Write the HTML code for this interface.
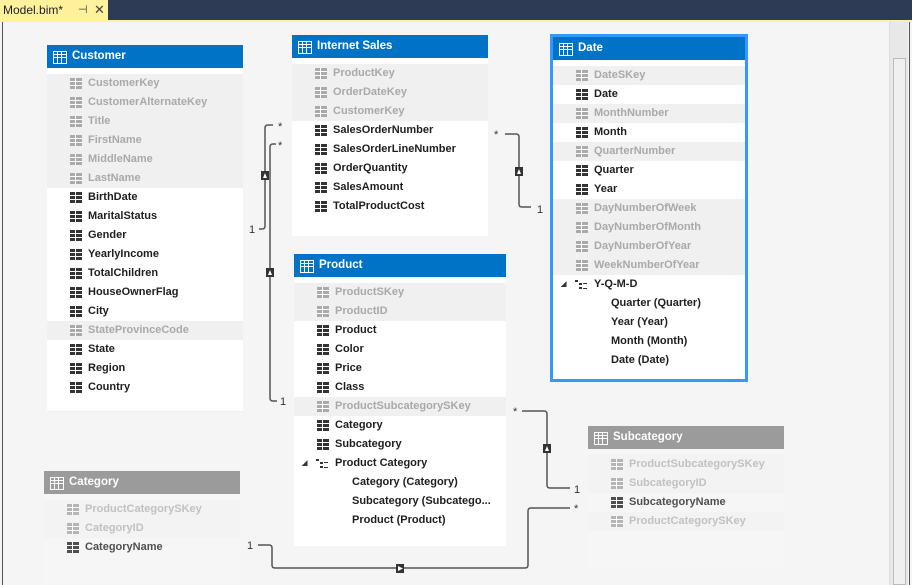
<!DOCTYPE html>
<html><head><meta charset="utf-8">
<style>
*{margin:0;padding:0;box-sizing:border-box}
body{width:912px;height:585px;overflow:hidden;background:#f5f5f5;font-family:"Liberation Sans",sans-serif;position:relative}
.top{position:absolute;left:0;top:0;width:912px;height:20px;background:#2d3b55}
.tab{position:absolute;left:0;top:0;width:108px;height:20px;background:#fff29d;font-size:12px;line-height:20px;padding-left:3px;color:#1e1e1e}
.tab span{position:absolute;font-size:11px;color:#444}
.ystrip{position:absolute;left:0;top:20px;width:912px;height:2px;background:#fff29d}
.lb{position:absolute;left:2px;top:22px;width:1px;height:563px;background:#555}
.sb{position:absolute;left:889px;top:22px;width:19px;height:563px;background:#e8e8e8;border-left:1px solid #ddd}
.thumb{position:absolute;left:893px;top:58px;width:13px;height:527px;background:#f0f0f0;border:1px solid #bbb}
.rb{position:absolute;left:909px;top:22px;width:1px;height:563px;background:#555}
.t{position:absolute;background:#f0f0f0}
.h{height:23px;background:#0073c6;color:#fff;font-weight:bold;font-size:11.5px;line-height:23px;padding-left:25px;position:relative}
.h.g{background:#8c8c8c}
.h::before{content:"";position:absolute;left:6px;top:6px;width:12px;height:11px;border:1px solid #fff;background:
linear-gradient(90deg,transparent 3px,#fff 3px,#fff 4px,transparent 4px,transparent 7px,#fff 7px,#fff 8px,transparent 8px),
linear-gradient(180deg,transparent 2px,#fff 2px,#fff 3px,transparent 3px,transparent 5px,#fff 5px,#fff 6px,transparent 6px)}
.gap{height:6px;background:#fff}
.r{height:19px;line-height:19px;font-size:11px;font-weight:bold;padding-left:41px;position:relative;color:#1e1e1e;background:#fff;white-space:nowrap}
.r.d{color:#a9a9a9;background:#f0f0f0}
.r::before{content:"";position:absolute;left:23px;top:4px;width:12px;height:11px;background:
linear-gradient(90deg,transparent 5px,#fff 5px,#fff 6px,transparent 6px),
linear-gradient(180deg,transparent 3px,#fff 3px,#fff 4px,transparent 4px,transparent 7px,#fff 7px,#fff 8px,transparent 8px),#333}
.r.d::before{background:linear-gradient(90deg,transparent 5px,#fff 5px,#fff 6px,transparent 6px),linear-gradient(180deg,transparent 3px,#fff 3px,#fff 4px,transparent 4px,transparent 7px,#fff 7px,#fff 8px,transparent 8px),#aaa}
.r.n::before{display:none}
.r.s{padding-left:58px}
.r.hi::before{width:11px;height:11px;background:none;border-left:none;content:"\25E2";font-size:7px;left:8px;top:0;color:#333}
.r.hi::after{content:"";position:absolute;left:22px;top:5px;width:12px;height:10px;background:
linear-gradient(#333,#333) 0 0/3px 2px no-repeat,linear-gradient(#333,#333) 4px 3px/3px 2px no-repeat,linear-gradient(#333,#333) 8px 3px/4px 1px no-repeat,linear-gradient(#333,#333) 4px 7px/3px 2px no-repeat,linear-gradient(#333,#333) 8px 8px/4px 1px no-repeat}
.fade{opacity:.85}
.fade .r{color:#333}
.fade .r.d{color:#b8b8b8;background:#f3f3f3}
.fade .w{background:#f7f7f7}
svg{position:absolute;left:0;top:0}
</style></head><body>
<div class="top"></div>
<div class="tab">Model.bim*<span style="left:78px;top:0">⊣</span><span style="left:94px;top:0;font-size:13px">✕</span></div>
<div class="ystrip"></div>
<div class="lb"></div>
<div class="sb"></div><div class="thumb"></div><div class="rb"></div>

<svg width="912" height="585">
<g fill="none" stroke="#555" stroke-width="1.5">
<path d="M273 125 H268 Q265 125 265 128 V226 Q265 229 262 229 H259"/>
<path d="M276 144 H273 Q270 144 270 147 V398 Q270 401 273 401 H277"/>
<path d="M505 134 H516 Q519 134 519 137 V204 Q519 207 522 207 H531"/>
<path d="M522 411 H544 Q547 411 547 414 V485 Q547 488 550 488 H570"/>
<path d="M258 545 H269 Q272 545 272 548 V565 Q272 568 275 568 H525 Q528 568 528 565 V511 Q528 508 531 508 H570"/>
</g>
<g fill="#333">
<rect x="261" y="171" width="8" height="9"/><rect x="266" y="268" width="8" height="9"/><rect x="515" y="167" width="8" height="9"/><rect x="543" y="444" width="8" height="9"/><rect x="396" y="564" width="8" height="9"/>
</g>
<g fill="#fff"><path d="M263 178 L265 173 L267 178Z"/><path d="M268 275 L270 270 L272 275Z"/><path d="M517 174 L519 169 L521 174Z"/><path d="M545 451 L547 446 L549 451Z"/><path d="M398 566 L403 568.5 L398 571Z"/></g>
<g font-family="Liberation Sans,sans-serif" font-size="11" fill="#333">
<text x="278" y="130">*</text><text x="278" y="149">*</text><text x="249" y="233">1</text>
<text x="280" y="405">1</text><text x="494" y="138">*</text><text x="537" y="213">1</text>
<text x="513" y="415">*</text><text x="574" y="493">1</text><text x="247" y="549">1</text><text x="574" y="512">*</text>
</g>
</svg>

<div class="t" style="left:47px;top:45px;width:196px;height:367px">
<div class="h">Customer</div><div class="gap"></div>
<div class="r d">CustomerKey</div><div class="r d">CustomerAlternateKey</div><div class="r d">Title</div><div class="r d">FirstName</div><div class="r d">MiddleName</div><div class="r d">LastName</div>
<div class="r">BirthDate</div><div class="r">MaritalStatus</div><div class="r">Gender</div><div class="r">YearlyIncome</div><div class="r">TotalChildren</div><div class="r">HouseOwnerFlag</div><div class="r">City</div><div class="r d">StateProvinceCode</div><div class="r">State</div><div class="r">Region</div><div class="r">Country</div>
<div style="height:14px;background:#fff"></div>
</div>

<div class="t" style="left:292px;top:35px;width:196px;height:201px;background:#fff">
<div class="h">Internet Sales</div><div class="gap"></div>
<div class="r d">ProductKey</div><div class="r d">OrderDateKey</div><div class="r d">CustomerKey</div>
<div class="r">SalesOrderNumber</div><div class="r">SalesOrderLineNumber</div><div class="r">OrderQuantity</div><div class="r">SalesAmount</div><div class="r">TotalProductCost</div>
</div>

<div class="t" style="left:550px;top:34px;width:198px;height:348px;background:#fff;border:3px solid #3399ff">
<div class="h">Date</div><div class="gap"></div>
<div class="r d">DateSKey</div><div class="r">Date</div><div class="r d">MonthNumber</div><div class="r">Month</div><div class="r d">QuarterNumber</div><div class="r">Quarter</div><div class="r">Year</div>
<div class="r d">DayNumberOfWeek</div><div class="r d">DayNumberOfMonth</div><div class="r d">DayNumberOfYear</div><div class="r d">WeekNumberOfYear</div>
<div class="r hi">Y-Q-M-D</div><div class="r n s">Quarter (Quarter)</div><div class="r n s">Year (Year)</div><div class="r n s">Month (Month)</div><div class="r n s">Date (Date)</div>
</div>

<div class="t" style="left:294px;top:254px;width:212px;height:292px;background:#fff">
<div class="h">Product</div><div class="gap"></div>
<div class="r d">ProductSKey</div><div class="r d">ProductID</div><div class="r">Product</div><div class="r">Color</div><div class="r">Price</div><div class="r">Class</div><div class="r d">ProductSubcategorySKey</div><div class="r">Category</div><div class="r">Subcategory</div>
<div class="r hi">Product Category</div><div class="r n s">Category (Category)</div><div class="r n s">Subcategory (Subcatego...</div><div class="r n s">Product (Product)</div>
</div>

<div class="t fade" style="left:588px;top:426px;width:196px;height:144px;background:#f7f7f7">
<div class="h g">Subcategory</div><div class="gap" style="background:#f7f7f7"></div>
<div class="r d">ProductSubcategorySKey</div><div class="r d">SubcategoryID</div><div class="r w">SubcategoryName</div><div class="r d">ProductCategorySKey</div>
</div>

<div class="t fade" style="left:44px;top:471px;width:196px;height:114px;background:#f7f7f7">
<div class="h g">Category</div><div class="gap" style="background:#f7f7f7"></div>
<div class="r d">ProductCategorySKey</div><div class="r d">CategoryID</div><div class="r w">CategoryName</div>
</div>
</body></html>
